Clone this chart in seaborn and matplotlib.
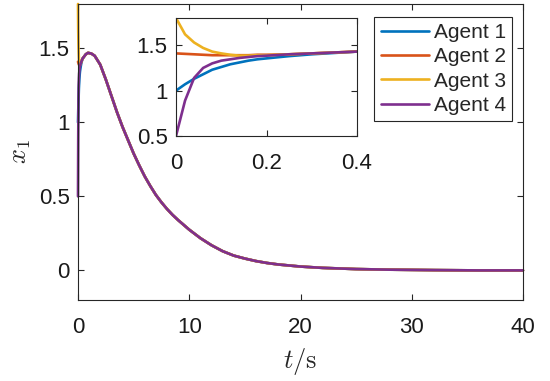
import numpy as np
import pandas as pd
import matplotlib
matplotlib.use("Agg")
import matplotlib.pyplot as plt
import seaborn as sns

# early transient
t_early = [0, 0.02, 0.04, 0.06, 0.08, 0.10, 0.12, 0.14, 0.16, 0.18, 0.20, 0.25, 0.30, 0.35, 0.40]
agent1_early = [1.00, 1.07, 1.13, 1.18, 1.23, 1.26, 1.29, 1.31, 1.33, 1.345, 1.355, 1.38, 1.40, 1.415, 1.43]
agent2_early = [1.41, 1.405, 1.40, 1.395, 1.39, 1.39, 1.39, 1.39, 1.39, 1.395, 1.395, 1.40, 1.41, 1.42, 1.43]
agent3_early = [1.80, 1.62, 1.53, 1.47, 1.43, 1.41, 1.395, 1.385, 1.385, 1.39, 1.39, 1.40, 1.41, 1.42, 1.43]
agent4_early = [0.50, 0.89, 1.14, 1.25, 1.30, 1.33, 1.345, 1.36, 1.37, 1.38, 1.385, 1.40, 1.41, 1.42, 1.43]

# common trajectory after consensus
t_late = [0.5, 0.7, 0.9, 1.2, 1.5, 2, 2.5, 3, 3.5, 4, 4.5, 5, 5.5, 6, 6.5, 7, 7.5, 8, 8.5,
          9, 10, 11, 12, 13, 14, 15, 16, 17, 18, 20, 22, 25, 28, 32, 36, 40]
x_late = [1.44, 1.46, 1.47, 1.465, 1.45, 1.39, 1.29, 1.18, 1.07, 0.97, 0.88, 0.79, 0.71,
          0.635, 0.57, 0.51, 0.46, 0.415, 0.375, 0.34, 0.275, 0.218, 0.17, 0.13, 0.10,
          0.08, 0.063, 0.05, 0.04, 0.026, 0.017, 0.009, 0.005, 0.002, 0.0, 0.0]

agents = ["Agent 1", "Agent 2", "Agent 3", "Agent 4"]
early = [agent1_early, agent2_early, agent3_early, agent4_early]
colors = ["#0072BD", "#D95319", "#EDB120", "#7E2F8E"]

rows = []
for name, vals in zip(agents, early):
    for t, v in zip(t_early + t_late, vals + x_late):
        rows.append({"t": t, "x1": v, "agent": name})
df = pd.DataFrame(rows)

sns.set_theme(style="ticks")
plt.rcParams["font.family"] = ["Liberation Sans", "DejaVu Sans"]
plt.rcParams["mathtext.fontset"] = "cm"
plt.rcParams["axes.edgecolor"] = "#262626"
plt.rcParams["axes.linewidth"] = 0.8


def matlab_ticks(ax, fs):
    ax.tick_params(direction="in", top=True, right=True, length=4, width=0.8,
                   labelsize=fs, colors="#262626", labelcolor="#1a1a1a")
    ax.tick_params(axis="x", pad=12)
    ax.tick_params(axis="y", pad=6)


fig = plt.figure(figsize=(5.5, 3.81), dpi=100)

# main axes
ax = fig.add_axes([78 / 550, 1 - 300 / 381, 445 / 550, 296 / 381])
sns.lineplot(data=df, x="t", y="x1", hue="agent", palette=colors, linewidth=1.9,
             estimator=None, sort=False, ax=ax)
for ln in ax.get_lines():
    ln.set_clip_on(False)
ax.set_xlim(0, 40)
ax.set_ylim(-0.2, 1.8)
ax.set_xticks([0, 10, 20, 30, 40])
ax.set_xticklabels(["0", "10", "20", "30", "40"])
ax.set_yticks([0, 0.5, 1, 1.5])
ax.set_yticklabels(["0", "0.5", "1", "1.5"])
matlab_ticks(ax, 16)
ax.set_xlabel(r"$t/\mathrm{s}$", fontsize=19, labelpad=6)
ax.set_ylabel(r"$x_1$", fontsize=19, labelpad=4)

ax.legend(loc="upper right", bbox_to_anchor=(512 / 550, 1 - 17 / 381),
          bbox_transform=fig.transFigure, fontsize=15, frameon=True, fancybox=False,
          edgecolor="#262626", framealpha=1, borderaxespad=0, borderpad=0.3,
          handlelength=2.35, handletextpad=0.2, labelspacing=0.25, title=None)
ax.get_legend().get_frame().set_linewidth(0.8)

# inset
ins = fig.add_axes([176 / 550, 1 - 136 / 381, 181 / 550, 118 / 381])
sns.lineplot(data=df[df["t"] <= 0.4], x="t", y="x1", hue="agent", palette=colors,
             linewidth=1.9, estimator=None, sort=False, legend=False, ax=ins)
ins.set_xlim(0, 0.4)
ins.set_ylim(0.5, 1.8)
ins.set_xticks([0, 0.2, 0.4])
ins.set_xticklabels(["0", "0.2", "0.4"])
ins.set_yticks([0.5, 1, 1.5])
ins.set_yticklabels(["0.5", "1", "1.5"])
matlab_ticks(ins, 16)
ins.set_xlabel("")
ins.set_ylabel("")

fig.savefig("out.png", dpi=100)
